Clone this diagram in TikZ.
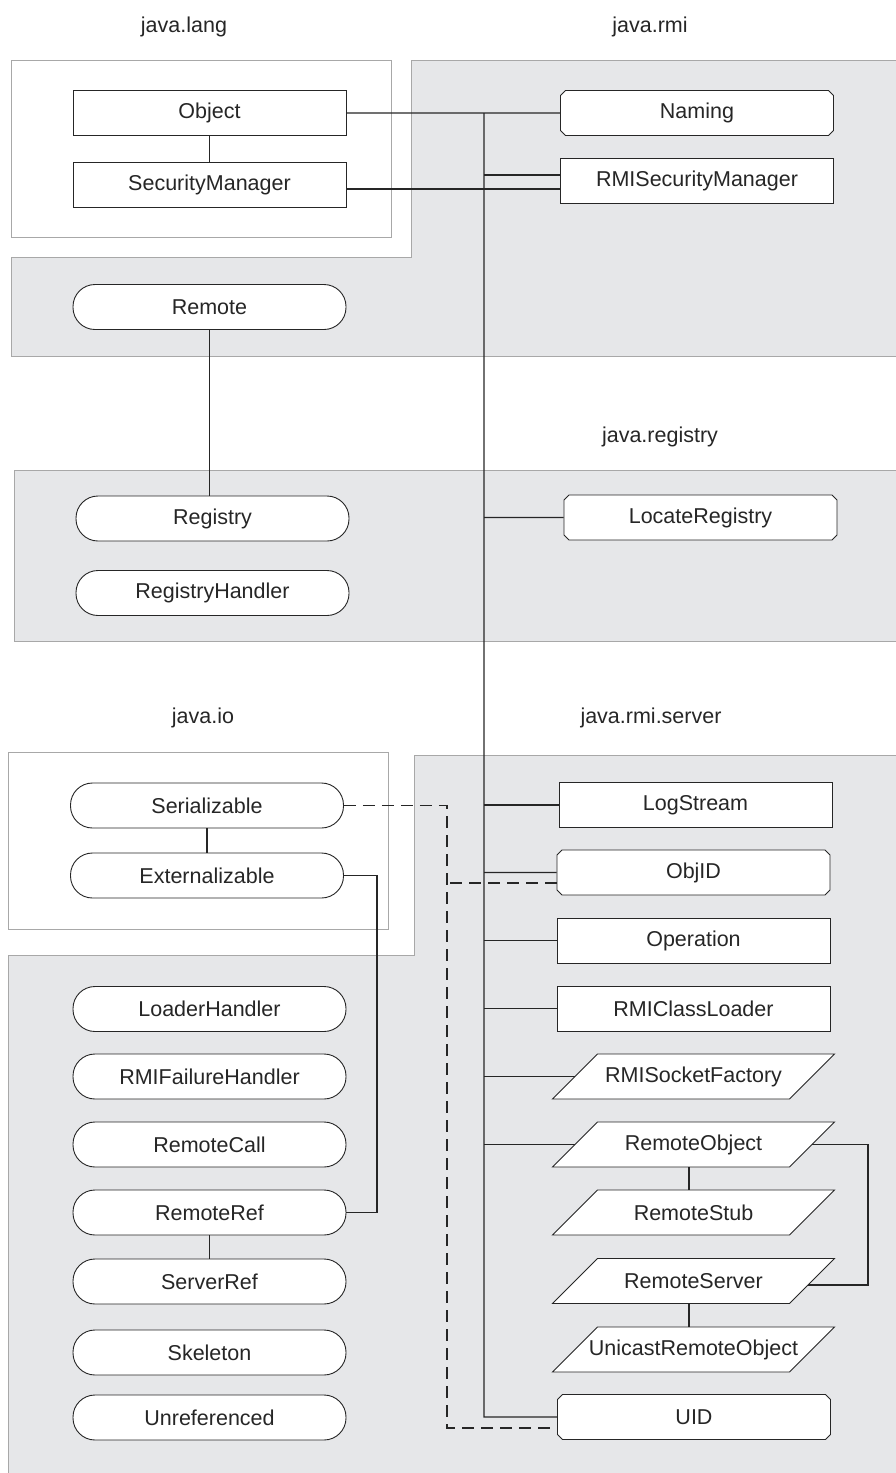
\documentclass[tikz,border=0pt]{standalone}
\usepackage{fontspec}
\setmainfont{Liberation Sans}
\usetikzlibrary{shapes.misc}
\definecolor{pkgfill}{HTML}{E6E7E9}
\definecolor{pkgline}{HTML}{A8A8A8}
\definecolor{ink}{HTML}{262626}
\newcommand\paranode[3]{%
  \draw[parashape] (#1) ++(-141,22.5) -- ++(237,0) -- ++(45,-45) -- ++(-237,0) -- cycle;
  \node[para] (#2) at (#1) {#3};}
\begin{document}
\begin{tikzpicture}[x=1pt,y=-1pt,
  box/.style={draw=ink, line width=0.9pt, fill=white, minimum width=273pt, minimum height=45pt, inner sep=0pt, font=\fontsize{21.5}{24}\selectfont, text=ink},
  cls/.style={box, rectangle},
  iface/.style={box, rectangle, rounded corners=22pt},
  chamf/.style={box, chamfered rectangle, chamfered rectangle xsep=2.5pt, chamfered rectangle ysep=2.5pt},
  para/.style={box, rectangle, draw=none, fill=none, minimum width=237pt},
  parashape/.style={draw=ink, line width=0.9pt, fill=white},
  conn/.style={draw=ink, line width=1.3pt},
  dashconn/.style={draw=ink, line width=1.3pt, dash pattern=on 12pt off 7pt},
  pkg/.style={draw=pkgline, line width=0.8pt, fill=pkgfill},
  pkgw/.style={draw=pkgline, line width=0.8pt, fill=white},
  title/.style={font=\fontsize{21.5}{24}\selectfont, text=ink, inner sep=0pt}
]
\useasboundingbox (0,0) rectangle (896,1473);

% package areas
\draw[pkgw] (11,60) rectangle (391,237);
\draw[pkg] (411,60) -- (900,60) -- (900,356) -- (11,356) -- (11,257) -- (411,257) -- cycle;
\draw[pkg] (14,470) -- (900,470) -- (900,641) -- (14,641) -- cycle;
\draw[pkgw] (8,752) rectangle (388,929);
\draw[pkg] (414,755) -- (900,755) -- (900,1480) -- (8,1480) -- (8,955) -- (414,955) -- cycle;

% titles
\node[title] (tlang) at (184,27) {java.lang};
\node[title] (trmi) at (650,27) {java.rmi};
\node[title] (treg) at (660,437) {java.registry};
\node[title] (tio) at (203,718) {java.io};
\node[title] (tserver) at (651,718) {java.rmi.server};

% java.lang
\node[cls] (obj) at (209.5,113) {Object};
\node[cls] (sm) at (209.5,184.5) {SecurityManager};
% java.rmi
\node[iface] (remote) at (209.5,307) {Remote};
\node[chamf] (naming) at (697,113) {Naming};
\node[cls] (rsm) at (697,181) {RMISecurityManager};
% java.registry
\node[iface] (reg) at (212.5,518.5) {Registry};
\node[iface] (regh) at (212.5,593) {RegistryHandler};
\node[chamf] (locreg) at (700.5,517.5) {LocateRegistry};
% java.io
\node[iface] (ser) at (207,805.5) {Serializable};
\node[iface] (ext) at (207,875.5) {Externalizable};
% java.rmi.server left column
\node[iface] (lh) at (209.5,1009) {LoaderHandler};
\node[iface] (rfh) at (209.5,1076.5) {RMIFailureHandler};
\node[iface] (rc) at (209.5,1144.5) {RemoteCall};
\node[iface] (rref) at (209.5,1212.5) {RemoteRef};
\node[iface] (sref) at (209.5,1281.5) {ServerRef};
\node[iface] (skel) at (209.5,1352.5) {Skeleton};
\node[iface] (unref) at (209.5,1417.5) {Unreferenced};
% java.rmi.server right column
\node[cls] (logs) at (695.5,805) {LogStream};
\node[chamf] (objid) at (693.5,872.5) {ObjID};
\node[cls] (oper) at (693.5,940.5) {Operation};
\node[cls] (rcl) at (693.5,1008.5) {RMIClassLoader};
\paranode{693.5,1076.5}{rsf}{RMISocketFactory}
\paranode{693.5,1144.5}{ro}{RemoteObject}
\paranode{693.5,1212.5}{rstub}{RemoteStub}
\paranode{693.5,1281}{rs}{RemoteServer}
\paranode{693.5,1349.5}{uro}{UnicastRemoteObject}
\node[chamf] (uid) at (694,1417) {UID};

% helper coordinates
\coordinate (bus) at (484,113);
\coordinate (ex) at (377,0);
\coordinate (dx) at (447,0);
\coordinate (rx) at (868,0);

% connectors
\draw[conn] (obj) -- (sm);
\draw[conn] (obj) -- (naming);
\draw[conn] (bus) -- (bus |- uid) -- (uid);
\draw[conn] ([yshift=6pt]rsm.west) -- ([yshift=6pt]rsm.west -| bus);
\draw[conn] ([yshift=-4.5pt]sm.east) -- ([yshift=-4.5pt]sm.east -| rsm.west);
\draw[conn] (remote) -- (remote |- reg.north);
\draw[conn] (bus |- locreg) -- (locreg);
\draw[conn] (ser) -- (ext);
\draw[conn] (ext.east) -- (ext.east -| ex) |- (rref.east);
\draw[conn] (rref) -- (sref);
\draw[conn] (bus |- logs) -- (logs);
\draw[conn] (bus |- objid) -- (objid);
\draw[conn] (bus |- oper) -- (oper);
\draw[conn] (bus |- rcl) -- (rcl);
\draw[conn] (bus |- rsf) -- (rsf);
\draw[conn] (bus |- ro) -- (ro);
\draw[conn] ([xshift=-4.5pt]ro.south) -- ([xshift=-4.5pt]rstub.north);
\draw[conn] ([xshift=-4.5pt]rs.south) -- ([xshift=-4.5pt]uro.north);
\draw[conn] (ro.east) -- (ro.east -| rx) |- ([xshift=-4pt,yshift=-4pt]rs.east);
\draw[dashconn] (ser.east) -- (ser.east -| dx) |- ([yshift=-11pt]uid.west);
\draw[dashconn] ([yshift=-10.5pt]objid.west) -- ([yshift=-10.5pt]objid.west -| dx);
\end{tikzpicture}
\end{document}
